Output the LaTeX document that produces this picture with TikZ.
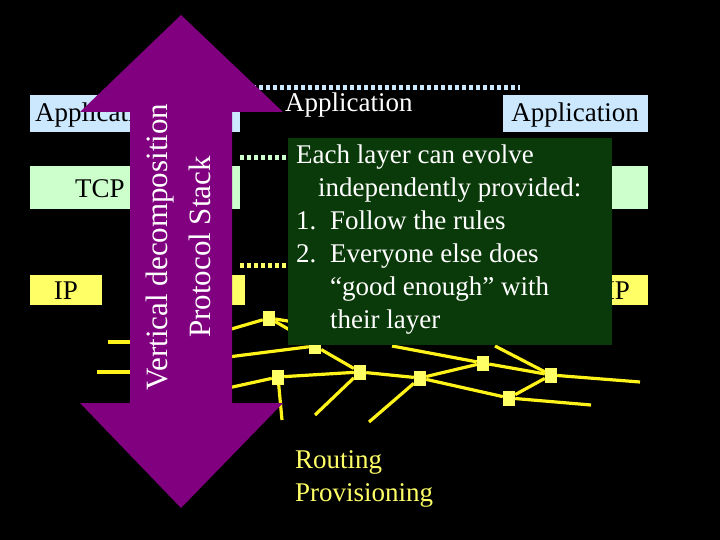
\documentclass[tikz,border=0pt]{standalone}
\usepackage{fontspec}
\setmainfont{Liberation Serif}
\begin{document}
\begin{tikzpicture}[x=1pt,y=-1pt,
  box/.style={draw=none,inner sep=0pt,font=\fontsize{27}{29}\selectfont},
  rt/.style={fill=ly,minimum width=12pt,minimum height=15pt,inner sep=0pt},
  ln/.style={draw=yellow!90!white,line width=3.2pt},
  dots/.style={line width=5pt,dash pattern=on 4pt off 3pt}]
\definecolor{lb}{HTML}{CCE8FF}\definecolor{lg}{HTML}{CCFFCC}\definecolor{ly}{HTML}{FFFF66}
\definecolor{pu}{HTML}{800080}\definecolor{dg}{HTML}{0A3A0A}
\fill[black] (0,0) rectangle (720,540);
\useasboundingbox (0,0) rectangle (720,540);
% layer boxes
\fill[lb] (30,95) rectangle (240,132);
\node[box,anchor=west] (appL) at (35,115) {Application};
\fill[lb] (503,95) rectangle (648,132);
\node[box] (appR) at (575,115) {Application};
\node[box,anchor=north west,text=white] (appM) at (285,93) {Application};
\fill[lg] (30,166) rectangle (240,209);
\node[box] (tcpL) at (100,189) {TCP};
\fill[lg] (560,166) rectangle (648,209);
\fill[ly] (30,275) rectangle (102,305);
\node[box] (ipL) at (66,291) {IP};
\fill[ly] (200,275) rectangle (245,305);
\fill[ly] (560,275) rectangle (648,305);
\node[box] (ipR) at (618,291) {IP};
% dotted peer lines
\coordinate (d1a) at (245,88); \coordinate (d1b) at (520,88);
\draw[dots,lb] (d1a) -- (d1b);
\coordinate (d2a) at (240,158); \coordinate (d2b) at (292,158);
\draw[dots,lg] (d2a) -- (d2b);
\coordinate (d3a) at (240,265); \coordinate (d3b) at (292,265);
\draw[dots,ly] (d3a) -- (d3b);
% routers
\node[rt] (r1) at (269,318) {};
\node[rt] (r2) at (315,346) {};
\node[rt] (r3) at (360,372) {};
\node[rt] (r4) at (278,377) {};
\node[rt] (r5) at (420,378) {};
\node[rt] (r6) at (483,363) {};
\node[rt] (r7) at (551,375) {};
\node[rt] (r8) at (509,398) {};
\coordinate (b1) at (392,346); \coordinate (b2) at (495,346); \coordinate (b3) at (300,323);
\coordinate (s1) at (228,330); \coordinate (s2) at (108,342); \coordinate (s2e) at (130,342);
\coordinate (s3) at (97,372); \coordinate (s3e) at (130,372);
\coordinate (s4) at (228,357); \coordinate (s5) at (228,388);
\coordinate (e1) at (282,420); \coordinate (e2) at (315,415); \coordinate (e3) at (369,422);
\coordinate (e4) at (640,382); \coordinate (e5) at (591,405);
\draw[ln] (s1) -- (r1); \draw[ln] (r1) -- (b3); \draw[ln] (r1) -- (302,337);
\draw[ln] (s2) -- (s2e); \draw[ln] (s3) -- (s3e);
\draw[ln] (s4) -- (r2); \draw[ln] (r2) -- (r3); \draw[ln] (s5) -- (r4);
\draw[ln] (r4) -- (r3); \draw[ln] (r4) -- (e1); \draw[ln] (r3) -- (e2);
\draw[ln] (r3) -- (r5); \draw[ln] (r5) -- (e3); \draw[ln] (r5) -- (r6);
\draw[ln] (r5) -- (r8); \draw[ln] (b1) -- (r6); \draw[ln] (r6) -- (r7);
\draw[ln] (b2) -- (r7); \draw[ln] (r7) -- (r8); \draw[ln] (r7) -- (e4);
\draw[ln] (r8) -- (e5);
% note box
\fill[dg] (288,138) rectangle (612,345);
\node[anchor=north west,text=white,font=\fontsize{27}{33}\selectfont,align=left,inner sep=0pt] (note) at (296,145)
 {Each layer can evolve\\
  \hspace*{22pt}independently provided:\\
  \makebox[34pt][l]{1.}Follow the rules\\
  \makebox[34pt][l]{2.}Everyone else does\\
  \hspace*{34pt}\textquotedblleft good enough\textquotedblright\ with\\
  \hspace*{34pt}their layer};
% arrow
\fill[pu] (181,15) -- (283,112) -- (232,112) -- (232,403) -- (283,403) -- (181,508)
  -- (80,403) -- (130,403) -- (130,112) -- (80,112) -- cycle;
\node[text=white,rotate=90,font=\fontsize{31}{33}\selectfont] (v1) at (160,247) {Vertical decomposition};
\node[text=white,rotate=90,font=\fontsize{31}{33}\selectfont] (v2) at (200,247) {Protocol Stack};
% routing text
\node[anchor=north west,text=ly,font=\fontsize{27}{33}\selectfont,align=left,inner sep=0pt] (rp) at (295,450) {Routing\\Provisioning};
\end{tikzpicture}
\end{document}
